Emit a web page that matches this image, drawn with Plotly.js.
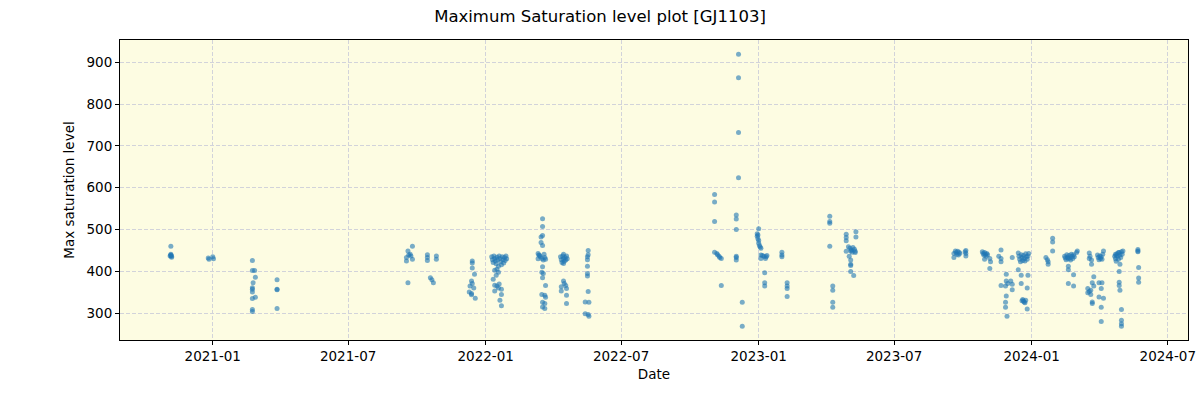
<!DOCTYPE html>
<html>
<head>
<meta charset="utf-8">
<script src="https://cdn.plot.ly/plotly-3.0.1.min.js"></script>
<style>html,body{margin:0;padding:0;background:#fff;}#chart{width:1200px;height:400px;}</style>
</head>
<body>
<div id="chart"></div>
<script>
const dates = [
  "2020-11-06","2020-11-06","2020-11-06","2020-11-07","2020-11-07","2020-11-05","2020-11-06",
  "2020-12-26","2020-12-27","2021-01-01","2021-01-02",
  "2021-02-23","2021-02-23","2021-02-26","2021-02-27","2021-02-24","2021-02-23","2021-02-23","2021-02-23","2021-02-23","2021-02-27","2021-02-23","2021-02-23",
  "2021-03-28","2021-03-28","2021-03-28","2021-03-28",
  "2021-09-25","2021-09-19","2021-09-20","2021-09-23","2021-09-17","2021-09-17","2021-09-25","2021-09-19","2021-09-22",
  "2021-10-15","2021-10-15","2021-10-15","2021-10-19","2021-10-21","2021-10-23","2021-10-27","2021-10-27",
  "2021-12-14","2021-12-14","2021-12-14","2021-12-17","2021-12-13","2021-12-14","2021-12-11","2021-12-16","2021-12-10","2021-12-13","2021-12-13","2021-12-18",
  "2022-01-09","2022-01-10","2022-01-11","2022-01-12","2022-01-13","2022-01-14","2022-01-15","2022-01-16","2022-01-17","2022-01-18","2022-01-19","2022-01-20","2022-01-21","2022-01-22","2022-01-23","2022-01-24","2022-01-25","2022-01-26","2022-01-27","2022-01-28","2022-01-29",
  "2022-01-16","2022-01-13","2022-01-18","2022-01-15","2022-01-11","2022-01-13","2022-01-16","2022-01-18","2022-01-13","2022-01-22","2022-01-22","2022-01-20","2022-01-22","2022-01-19",
  "2022-03-18","2022-03-18","2022-03-18","2022-03-16","2022-03-16","2022-03-18","2022-03-12","2022-03-13","2022-03-15","2022-03-17","2022-03-19","2022-03-21","2022-03-12","2022-03-14","2022-03-20","2022-03-22",
  "2022-03-18","2022-03-17","2022-03-18","2022-03-22","2022-03-17","2022-03-21","2022-03-22","2022-03-18","2022-03-21","2022-03-18","2022-03-21","2022-03-19",
  "2022-04-11","2022-04-12","2022-04-13","2022-04-14","2022-04-15","2022-04-16","2022-04-17","2022-04-18","2022-04-19","2022-04-20","2022-04-15","2022-04-15",
  "2022-04-15","2022-04-12","2022-04-18","2022-04-12","2022-04-19","2022-04-19","2022-04-19","2022-04-16",
  "2022-05-18","2022-05-17","2022-05-17","2022-05-17","2022-05-17","2022-05-17","2022-05-18","2022-05-14","2022-05-19","2022-05-14","2022-05-18","2022-05-19","2022-05-18",
  "2022-11-03","2022-11-03","2022-11-03","2022-11-03","2022-11-06","2022-11-07","2022-11-09","2022-11-10","2022-11-12","2022-11-12",
  "2022-12-05","2022-12-05","2022-12-05","2022-12-05","2022-12-02","2022-12-02","2022-12-02","2022-12-02","2022-12-02","2022-12-02","2022-12-10","2022-12-10",
  "2023-01-01","2022-12-30","2022-12-30","2022-12-31","2023-01-01","2022-12-31","2023-01-01","2023-01-02","2023-01-03","2023-01-04","2023-01-04","2023-01-08","2023-01-11","2023-01-04","2023-01-10","2023-01-09","2023-01-09","2023-01-09","2023-01-06","2023-01-12",
  "2023-02-01","2023-02-01","2023-02-01","2023-02-08","2023-02-08","2023-02-08","2023-02-08",
  "2023-04-06","2023-04-06","2023-04-06","2023-04-06","2023-04-10","2023-04-10","2023-04-10","2023-04-10",
  "2023-04-28","2023-04-28","2023-04-28","2023-05-11","2023-05-11","2023-04-28","2023-05-01","2023-05-03","2023-05-05","2023-05-07","2023-05-09","2023-05-04","2023-05-06","2023-05-02","2023-05-04","2023-05-04","2023-05-04","2023-05-04","2023-05-08","2023-05-10","2023-05-10",
  "2023-09-19","2023-09-19","2023-09-21","2023-09-22","2023-09-23","2023-09-24","2023-09-25","2023-09-26","2023-09-27","2023-10-05","2023-10-05","2023-10-05","2023-10-04",
  "2023-10-27","2023-10-28","2023-10-29","2023-10-30","2023-10-31","2023-11-01","2023-11-02","2023-10-30","2023-11-06","2023-11-07","2023-11-06","2023-11-03",
  "2023-11-21","2023-11-18","2023-11-21","2023-11-21","2023-12-06","2023-11-28","2023-11-28","2023-12-04","2023-12-06","2023-12-06","2023-11-21","2023-11-27","2023-11-30","2023-11-28","2023-11-27","2023-11-27","2023-11-29",
  "2023-12-14","2023-12-15","2023-12-16","2023-12-17","2023-12-18","2023-12-19","2023-12-20","2023-12-21","2023-12-22","2023-12-23","2023-12-24","2023-12-25","2023-12-26","2023-12-27","2023-12-28",
  "2023-12-14","2023-12-18","2023-12-27","2023-12-18","2023-12-26","2023-12-20","2023-12-21","2023-12-22","2023-12-23","2023-12-24","2023-12-19","2023-12-26",
  "2024-01-29","2024-01-29","2024-01-29","2024-01-20","2024-01-22","2024-01-23","2024-01-23",
  "2024-02-14","2024-02-15","2024-02-16","2024-02-17","2024-02-18","2024-02-19","2024-02-20","2024-02-21","2024-02-22","2024-02-23","2024-02-24","2024-02-25","2024-02-26","2024-02-27","2024-03-02","2024-03-01",
  "2024-02-19","2024-02-19","2024-02-26","2024-02-19","2024-02-26",
  "2024-03-18","2024-03-18","2024-03-21","2024-03-29","2024-03-30","2024-03-31","2024-04-01","2024-04-02","2024-04-03","2024-04-04","2024-04-05","2024-04-06","2024-03-19","2024-03-21",
  "2024-03-24","2024-03-22","2024-03-16","2024-03-16","2024-03-20","2024-03-24","2024-03-31","2024-04-04","2024-04-03","2024-03-31","2024-04-06","2024-03-22","2024-03-22","2024-04-03","2024-04-03","2024-03-18","2024-03-20",
  "2024-04-21","2024-04-22","2024-04-23","2024-04-24","2024-04-25","2024-04-26","2024-04-27","2024-04-28","2024-04-29","2024-04-30","2024-05-01","2024-05-02","2024-04-23","2024-04-26","2024-04-22",
  "2024-04-28","2024-04-27","2024-04-27","2024-04-27","2024-04-28","2024-04-30","2024-04-30","2024-04-30","2024-04-30",
  "2024-05-22","2024-05-22","2024-05-22","2024-05-23","2024-05-23","2024-05-23"
];
const maxSaturation = [
  460,441,438,436,434,437,439,
  432,429,435,430,
  426,402,402,386,373,361,357,351,335,338,309,304,
  380,357,356,311,
  460,449,439,437,433,425,429,373,441,
  440,433,426,385,380,373,437,429,
  425,420,408,393,377,371,365,360,351,347,344,336,
  435,428,421,437,431,425,418,434,428,412,437,431,423,416,435,428,420,433,426,437,430,
  405,403,398,391,381,367,365,360,353,357,345,331,318,370,
  526,507,486,482,469,462,443,439,435,431,427,433,430,438,441,429,
  411,398,385,366,345,343,338,326,323,315,311,395,
  435,428,421,437,430,424,433,427,437,430,441,419,
  377,363,366,353,359,343,323,371,
  450,435,428,412,395,389,352,327,326,299,297,293,440,
  584,566,519,446,443,440,436,433,431,366,
  919,863,732,624,535,525,500,436,427,433,326,269,
  502,490,484,478,474,487,467,462,458,455,439,436,435,431,431,397,373,365,438,438,
  446,439,435,373,365,359,340,
  532,519,515,460,365,355,326,314,
  489,481,473,495,482,448,459,455,451,457,453,449,446,436,427,417,414,400,390,448,445,
  443,433,449,445,441,448,439,446,443,450,443,437,447,
  447,443,439,445,441,436,443,429,431,423,407,440,
  451,436,431,423,433,393,377,377,369,356,366,365,371,341,326,314,293,
  444,436,429,423,440,433,426,438,431,425,442,435,429,437,443,
  404,391,391,371,360,333,329,327,325,331,330,310,
  479,470,449,433,428,423,417,
  436,432,428,440,434,430,438,432,427,441,436,431,440,435,449,445,
  412,404,392,371,365,
  444,431,427,439,433,428,437,431,435,429,441,449,436,417,
  387,373,359,349,355,365,373,373,359,339,336,327,323,314,280,352,345,
  436,430,424,442,436,429,445,439,433,447,441,449,438,445,441,
  417,400,374,366,355,309,283,275,269,
  452,449,447,409,384,374
];
const chartTitle = "Maximum Saturation level plot [GJ1103]";
const xLabel = "Date";
const yLabel = "Max saturation level";
const xTickDates = ["2021-01-01","2021-07-01","2022-01-01","2022-07-01","2023-01-01","2023-07-01","2024-01-01","2024-07-01"];
const xTickText = ["2021-01","2021-07","2022-01","2022-07","2023-01","2023-07","2024-01","2024-07"];
const yTickVals = [300,400,500,600,700,800,900];

const font = "DejaVu Sans, sans-serif";
const trace = {
  type: "scatter",
  mode: "markers",
  x: dates,
  y: maxSaturation,
  marker: {color: "#1f77b4", size: 5, opacity: 0.6, line: {width: 0}},
  hoverinfo: "x+y"
};
const axisCommon = {
  showline: true, mirror: true, linecolor: "#000", linewidth: 1,
  ticks: "outside", ticklen: 4, tickwidth: 1, tickcolor: "#000",
  showgrid: true, gridcolor: "#d2d3da", griddash: "4px,2px", gridwidth: 1,
  zeroline: false,
  tickfont: {family: font, size: 13.5, color: "#000"}
};
const layout = {
  width: 1200, height: 400,
  margin: {l: 120, r: 12, t: 40, b: 60},
  paper_bgcolor: "#ffffff",
  plot_bgcolor: "#fdfce2",
  showlegend: false,
  title: {text: chartTitle, font: {family: font, size: 16.5, color: "#000"}, x: 0.5, xref: "container", y: 0.96, yref: "container", yanchor: "middle"},
  xaxis: Object.assign({}, axisCommon, {
    type: "date",
    range: ["2020-08-30", "2024-07-28"],
    tickmode: "array", tickvals: xTickDates, ticktext: xTickText,
    title: {text: xLabel, font: {family: font, size: 13.5, color: "#000"}, standoff: 6}
  }),
  yaxis: Object.assign({}, axisCommon, {
    range: [236, 953],
    tickmode: "array", tickvals: yTickVals,
    title: {text: yLabel, font: {family: font, size: 13.5, color: "#000"}, standoff: 8}
  })
};
Plotly.newPlot("chart", [trace], layout, {displayModeBar: false, staticPlot: true});
</script>
</body>
</html>
